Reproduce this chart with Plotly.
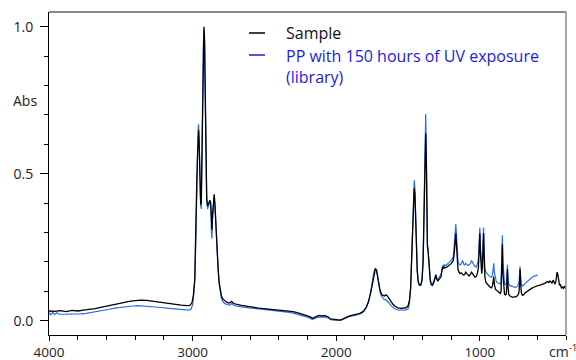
import plotly.graph_objects as go

# ---------------- data ----------------
sample_wn = [4000, 3960, 3920, 3880, 3840, 3800, 3760, 3720, 3680, 3640, 3600, 3560, 3520, 3480, 3440, 3400,
             3360, 3320, 3280, 3240, 3200, 3160, 3120, 3080, 3040, 3020, 3005, 2995, 2985, 2978, 2972, 2966,
             2962, 2958, 2954, 2949, 2944, 2940, 2936, 2931, 2926, 2921, 2917, 2912, 2907, 2902, 2896, 2890,
             2884, 2879, 2874, 2869, 2865, 2861, 2856, 2850, 2845, 2840, 2834, 2828, 2822, 2815, 2808, 2800,
             2790, 2775, 2760, 2745, 2735, 2728, 2720, 2700, 2660, 2620, 2580, 2540, 2500, 2460, 2420, 2380,
             2340, 2300, 2260, 2230, 2200, 2180, 2165, 2155, 2140, 2120, 2100, 2080, 2060, 2040, 2020, 2000,
             1985, 1970, 1955, 1940, 1920, 1900, 1880, 1860, 1840, 1820, 1805, 1790, 1775, 1760, 1748, 1738,
             1728, 1720, 1712, 1704, 1695, 1685, 1675, 1665, 1655, 1645, 1635, 1620, 1605, 1590, 1570, 1550,
             1530, 1515, 1500, 1490, 1482, 1475, 1468, 1462, 1457, 1452, 1447, 1442, 1436, 1428, 1420, 1410,
             1402, 1395, 1390, 1385, 1380, 1377, 1373, 1369, 1365, 1361, 1356, 1351, 1345, 1338, 1330, 1320,
             1313, 1306, 1300, 1292, 1285, 1278, 1270, 1262, 1256, 1250, 1244, 1236, 1228, 1220, 1210, 1200,
             1192, 1185, 1178, 1172, 1167, 1163, 1158, 1152, 1145, 1138, 1130, 1120, 1112, 1105, 1098, 1090,
             1082, 1075, 1065, 1058, 1050, 1042, 1035, 1025, 1018, 1010, 1004, 1000, 996, 992, 987, 982,
             978, 974, 970, 965, 958, 950, 940, 930, 920, 912, 906, 903, 899, 892, 885, 875,
             866, 858, 852, 847, 843, 839, 834, 828, 822, 816, 812, 808, 804, 799, 792, 784,
             776, 766, 756, 746, 736, 728, 724, 720, 716, 711, 704, 696, 686, 676, 664, 652,
             640, 628, 616, 604, 592, 580, 568, 556, 545, 535, 527, 520, 512, 505, 498, 490,
             484, 478, 472, 466, 462, 458, 454, 450, 445, 440, 432, 425, 418, 410, 404, 400]
sample_abs = [0.033, 0.032, 0.034, 0.031, 0.035, 0.033, 0.036, 0.038, 0.041, 0.045, 0.049, 0.054, 0.059, 0.063, 0.066, 0.068,
              0.070, 0.069, 0.066, 0.063, 0.060, 0.058, 0.056, 0.053, 0.051, 0.052, 0.060, 0.085, 0.140, 0.260, 0.450, 0.560,
              0.620, 0.648, 0.600, 0.480, 0.400, 0.395, 0.520, 0.750, 0.930, 1.000, 0.960, 0.760, 0.560, 0.420, 0.390, 0.400,
              0.405, 0.410, 0.400, 0.330, 0.310, 0.360, 0.410, 0.430, 0.400, 0.340, 0.275, 0.220, 0.175, 0.130, 0.100, 0.085,
              0.074, 0.067, 0.062, 0.060, 0.063, 0.066, 0.061, 0.056, 0.052, 0.048, 0.046, 0.043, 0.041, 0.038, 0.036, 0.035,
              0.033, 0.031, 0.026, 0.022, 0.018, 0.013, 0.008, 0.011, 0.014, 0.018, 0.016, 0.017, 0.014, 0.006, 0.004, 0.002,
              0.003, 0.002, 0.006, 0.010, 0.014, 0.017, 0.019, 0.021, 0.024, 0.029, 0.036, 0.047, 0.065, 0.095, 0.130, 0.160,
              0.175, 0.172, 0.155, 0.128, 0.105, 0.090, 0.086, 0.084, 0.088, 0.085, 0.078, 0.066, 0.056, 0.049, 0.044, 0.042,
              0.042, 0.044, 0.050, 0.070, 0.110, 0.200, 0.330, 0.420, 0.450, 0.430, 0.330, 0.230, 0.170, 0.130, 0.121, 0.122,
              0.140, 0.200, 0.320, 0.480, 0.600, 0.637, 0.560, 0.360, 0.250, 0.240, 0.210, 0.160, 0.135, 0.122, 0.120, 0.130,
              0.145, 0.155, 0.140, 0.135, 0.140, 0.145, 0.150, 0.175, 0.183, 0.178, 0.182, 0.180, 0.184, 0.187, 0.190, 0.194,
              0.199, 0.205, 0.230, 0.270, 0.297, 0.260, 0.200, 0.175, 0.165, 0.160, 0.163, 0.160, 0.155, 0.158, 0.165, 0.160,
              0.155, 0.152, 0.158, 0.165, 0.160, 0.152, 0.148, 0.150, 0.160, 0.180, 0.250, 0.297, 0.230, 0.170, 0.160, 0.180,
              0.230, 0.297, 0.220, 0.150, 0.130, 0.125, 0.118, 0.115, 0.112, 0.118, 0.140, 0.150, 0.125, 0.108, 0.104, 0.100,
              0.095, 0.093, 0.100, 0.160, 0.260, 0.160, 0.100, 0.090, 0.088, 0.090, 0.120, 0.175, 0.120, 0.090, 0.085, 0.082,
              0.080, 0.080, 0.081, 0.082, 0.086, 0.095, 0.120, 0.175, 0.130, 0.095, 0.087, 0.088, 0.094, 0.098, 0.103, 0.107,
              0.110, 0.113, 0.116, 0.118, 0.120, 0.121, 0.123, 0.125, 0.128, 0.132, 0.133, 0.130, 0.135, 0.132, 0.128, 0.138,
              0.134, 0.126, 0.130, 0.150, 0.165, 0.160, 0.140, 0.125, 0.120, 0.124, 0.112, 0.115, 0.110, 0.118, 0.112, 0.114]

library_wn = [4000, 3990, 3975, 3960, 3945, 3930, 3900, 3860, 3820, 3780, 3740, 3700, 3660, 3620, 3580, 3540,
              3500, 3460, 3420, 3380, 3340, 3300, 3260, 3220, 3180, 3140, 3100, 3060, 3030, 3010, 3000, 2993,
              2985, 2978, 2972, 2966, 2962, 2958, 2954, 2949, 2944, 2940, 2936, 2931, 2926, 2921, 2917, 2912,
              2907, 2902, 2896, 2890, 2884, 2879, 2874, 2869, 2865, 2861, 2856, 2850, 2845, 2840, 2834, 2828,
              2822, 2815, 2808, 2800, 2790, 2775, 2760, 2745, 2735, 2728, 2720, 2700, 2660, 2620, 2580, 2540,
              2500, 2460, 2420, 2380, 2340, 2300, 2260, 2230, 2200, 2180, 2165, 2155, 2140, 2120, 2100, 2080,
              2060, 2040, 2020, 2000, 1985, 1970, 1955, 1940, 1920, 1900, 1880, 1860, 1840, 1820, 1805, 1790,
              1775, 1760, 1748, 1738, 1728, 1720, 1712, 1704, 1695, 1685, 1675, 1665, 1655, 1645, 1635, 1620,
              1605, 1590, 1570, 1550, 1530, 1515, 1500, 1490, 1482, 1475, 1468, 1462, 1457, 1452, 1447, 1442,
              1436, 1428, 1420, 1410, 1402, 1395, 1390, 1385, 1380, 1377, 1373, 1369, 1365, 1361, 1356, 1351,
              1345, 1338, 1330, 1320, 1313, 1306, 1300, 1292, 1285, 1278, 1270, 1262, 1256, 1250, 1244, 1236,
              1228, 1220, 1210, 1200, 1192, 1185, 1178, 1172, 1167, 1163, 1158, 1152, 1145, 1138, 1130, 1120,
              1112, 1105, 1098, 1090, 1082, 1075, 1065, 1058, 1050, 1042, 1035, 1025, 1018, 1010, 1004, 1000,
              996, 992, 987, 982, 978, 974, 970, 965, 958, 950, 940, 930, 920, 912, 906, 903,
              899, 892, 885, 875, 866, 858, 852, 847, 843, 839, 834, 828, 822, 816, 812, 808,
              804, 799, 792, 784, 776, 766, 756, 746, 736, 728, 724, 720, 716, 711, 704, 696,
              686, 676, 664, 652, 640, 628, 616, 604, 598]
library_abs = [0.028, 0.020, 0.028, 0.021, 0.027, 0.022, 0.022, 0.022, 0.022, 0.023, 0.025, 0.028, 0.031, 0.035, 0.039, 0.043,
               0.046, 0.049, 0.050, 0.051, 0.050, 0.049, 0.047, 0.045, 0.043, 0.041, 0.039, 0.037, 0.036, 0.040, 0.055, 0.085,
               0.140, 0.260, 0.460, 0.580, 0.650, 0.668, 0.610, 0.480, 0.390, 0.380, 0.520, 0.760, 0.930, 0.990, 0.960, 0.760,
               0.560, 0.410, 0.380, 0.395, 0.400, 0.405, 0.390, 0.300, 0.280, 0.350, 0.400, 0.420, 0.395, 0.335, 0.270, 0.215,
               0.170, 0.125, 0.095, 0.078, 0.066, 0.058, 0.055, 0.053, 0.055, 0.060, 0.054, 0.050, 0.047, 0.045, 0.043, 0.040,
               0.038, 0.035, 0.033, 0.032, 0.029, 0.026, 0.021, 0.017, 0.012, 0.008, 0.004, 0.007, 0.010, 0.013, 0.012, 0.013,
               0.010, 0.004, 0.002, 0.001, 0.002, 0.001, 0.004, 0.008, 0.012, 0.015, 0.017, 0.019, 0.022, 0.026, 0.033, 0.045,
               0.065, 0.098, 0.135, 0.165, 0.178, 0.175, 0.155, 0.125, 0.098, 0.083, 0.076, 0.072, 0.072, 0.068, 0.062, 0.052,
               0.045, 0.040, 0.037, 0.036, 0.036, 0.037, 0.040, 0.060, 0.110, 0.210, 0.350, 0.450, 0.478, 0.450, 0.340, 0.230,
               0.170, 0.130, 0.122, 0.124, 0.145, 0.210, 0.340, 0.520, 0.660, 0.703, 0.600, 0.380, 0.260, 0.250, 0.215, 0.165,
               0.140, 0.128, 0.126, 0.136, 0.150, 0.158, 0.145, 0.140, 0.147, 0.152, 0.158, 0.180, 0.190, 0.185, 0.190, 0.188,
               0.193, 0.196, 0.200, 0.205, 0.210, 0.218, 0.250, 0.300, 0.329, 0.290, 0.225, 0.200, 0.193, 0.190, 0.193, 0.205,
               0.192, 0.190, 0.195, 0.192, 0.188, 0.190, 0.195, 0.205, 0.198, 0.190, 0.185, 0.182, 0.190, 0.210, 0.280, 0.317,
               0.250, 0.200, 0.190, 0.205, 0.260, 0.317, 0.240, 0.180, 0.165, 0.160, 0.155, 0.150, 0.148, 0.155, 0.180, 0.195,
               0.165, 0.140, 0.132, 0.128, 0.125, 0.125, 0.135, 0.200, 0.291, 0.200, 0.135, 0.125, 0.123, 0.128, 0.150, 0.190,
               0.150, 0.125, 0.120, 0.118, 0.116, 0.115, 0.114, 0.114, 0.118, 0.130, 0.150, 0.185, 0.150, 0.125, 0.118, 0.120,
               0.126, 0.131, 0.137, 0.142, 0.146, 0.150, 0.152, 0.155, 0.153]

series_names = ["Sample", "PP with 150 hours of UV exposure<br>(library)"]
x_ticks = [4000, 3000, 2000, 1000]
y_ticks = [0.0, 0.5, 1.0]
y_ticklabels = ["0.0", "0.5", "1.0"]

# ---------------- layout helpers ----------------
W, H = 576, 360
L, R, T, B = 49, 566, 12, 335
FONT = "Open Sans"


def px(x):
    return (x - L) / (R - L)


def py(y):
    return (B - y) / (B - T)


fig = go.Figure()
fig.add_trace(go.Scatter(x=library_wn, y=library_abs, mode="lines", name=series_names[1],
                         line=dict(color="#2a6df4", width=1.2), showlegend=False))
fig.add_trace(go.Scatter(x=sample_wn, y=sample_abs, mode="lines", name=series_names[0],
                         line=dict(color="#000000", width=1.3), showlegend=False))

fig.update_layout(
    width=W, height=H,
    margin=dict(l=L, r=W - R, t=T, b=H - B, autoexpand=False),
    paper_bgcolor="white", plot_bgcolor="white",
    font=dict(family=FONT, size=14, color="#222"),
    xaxis=dict(range=[4000, 400], tickmode="array", tickvals=x_ticks,
               ticktext=[str(v) for v in x_ticks], automargin=False,
               ticks="outside", ticklen=5, tickwidth=1, tickcolor="#000",
               showline=True, linecolor="#000", linewidth=1, showgrid=False, zeroline=False,
               tickfont=dict(size=13.5, color="#222"),
               minor=dict(tickmode="linear", tick0=0, dtick=200, ticks="outside", ticklen=4,
                          tickcolor="#000", showgrid=False)),
    yaxis=dict(range=[-0.0486, 1.05], tickmode="array", tickvals=y_ticks, ticktext=y_ticklabels,
               automargin=False,
               ticks="outside", ticklen=8, tickwidth=1, tickcolor="#000",
               showline=True, linecolor="#000", linewidth=1, showgrid=False, zeroline=False,
               tickfont=dict(size=14, color="#222"), ticklabelstandoff=4,
               minor=dict(tickmode="linear", tick0=0, dtick=0.1, ticks="outside", ticklen=4,
                          tickcolor="#000", showgrid=False)),
)

# gray top and right frame
fig.add_shape(type="line", xref="paper", yref="paper", x0=0, x1=1, y0=1, y1=1,
              line=dict(color="#8a8a8a", width=2))
fig.add_shape(type="line", xref="paper", yref="paper", x0=1, x1=1, y0=0, y1=1,
              line=dict(color="#8a8a8a", width=1.5))

# legend drawn manually
fig.add_shape(type="line", xref="paper", yref="paper", x0=px(249), x1=px(265), y0=py(33), y1=py(33),
              line=dict(color="#000", width=1.5))
fig.add_shape(type="line", xref="paper", yref="paper", x0=px(249), x1=px(265), y0=py(55), y1=py(55),
              line=dict(color="#1a1ae6", width=1.5))
fig.add_annotation(xref="paper", yref="paper", x=px(284), y=py(33), text=series_names[0],
                   showarrow=False, xanchor="left", yanchor="middle",
                   font=dict(family=FONT, size=16, color="#111"))
fig.add_annotation(xref="paper", yref="paper", x=px(284), y=py(66), text=series_names[1],
                   showarrow=False, xanchor="left", yanchor="middle", align="left",
                   font=dict(family=FONT, size=16, color="#1a1ae6"))

# axis labels
fig.add_annotation(xref="paper", yref="paper", x=px(25), y=py(101), text="Abs",
                   showarrow=False, xanchor="center", yanchor="middle",
                   font=dict(family=FONT, size=14, color="#222"))
fig.add_annotation(xref="paper", yref="paper", x=px(547), y=py(351), text="cm<sup>-1</sup>",
                   showarrow=False, xanchor="left", yanchor="middle",
                   font=dict(family=FONT, size=14, color="#222"))

fig.write_html("out.html")
